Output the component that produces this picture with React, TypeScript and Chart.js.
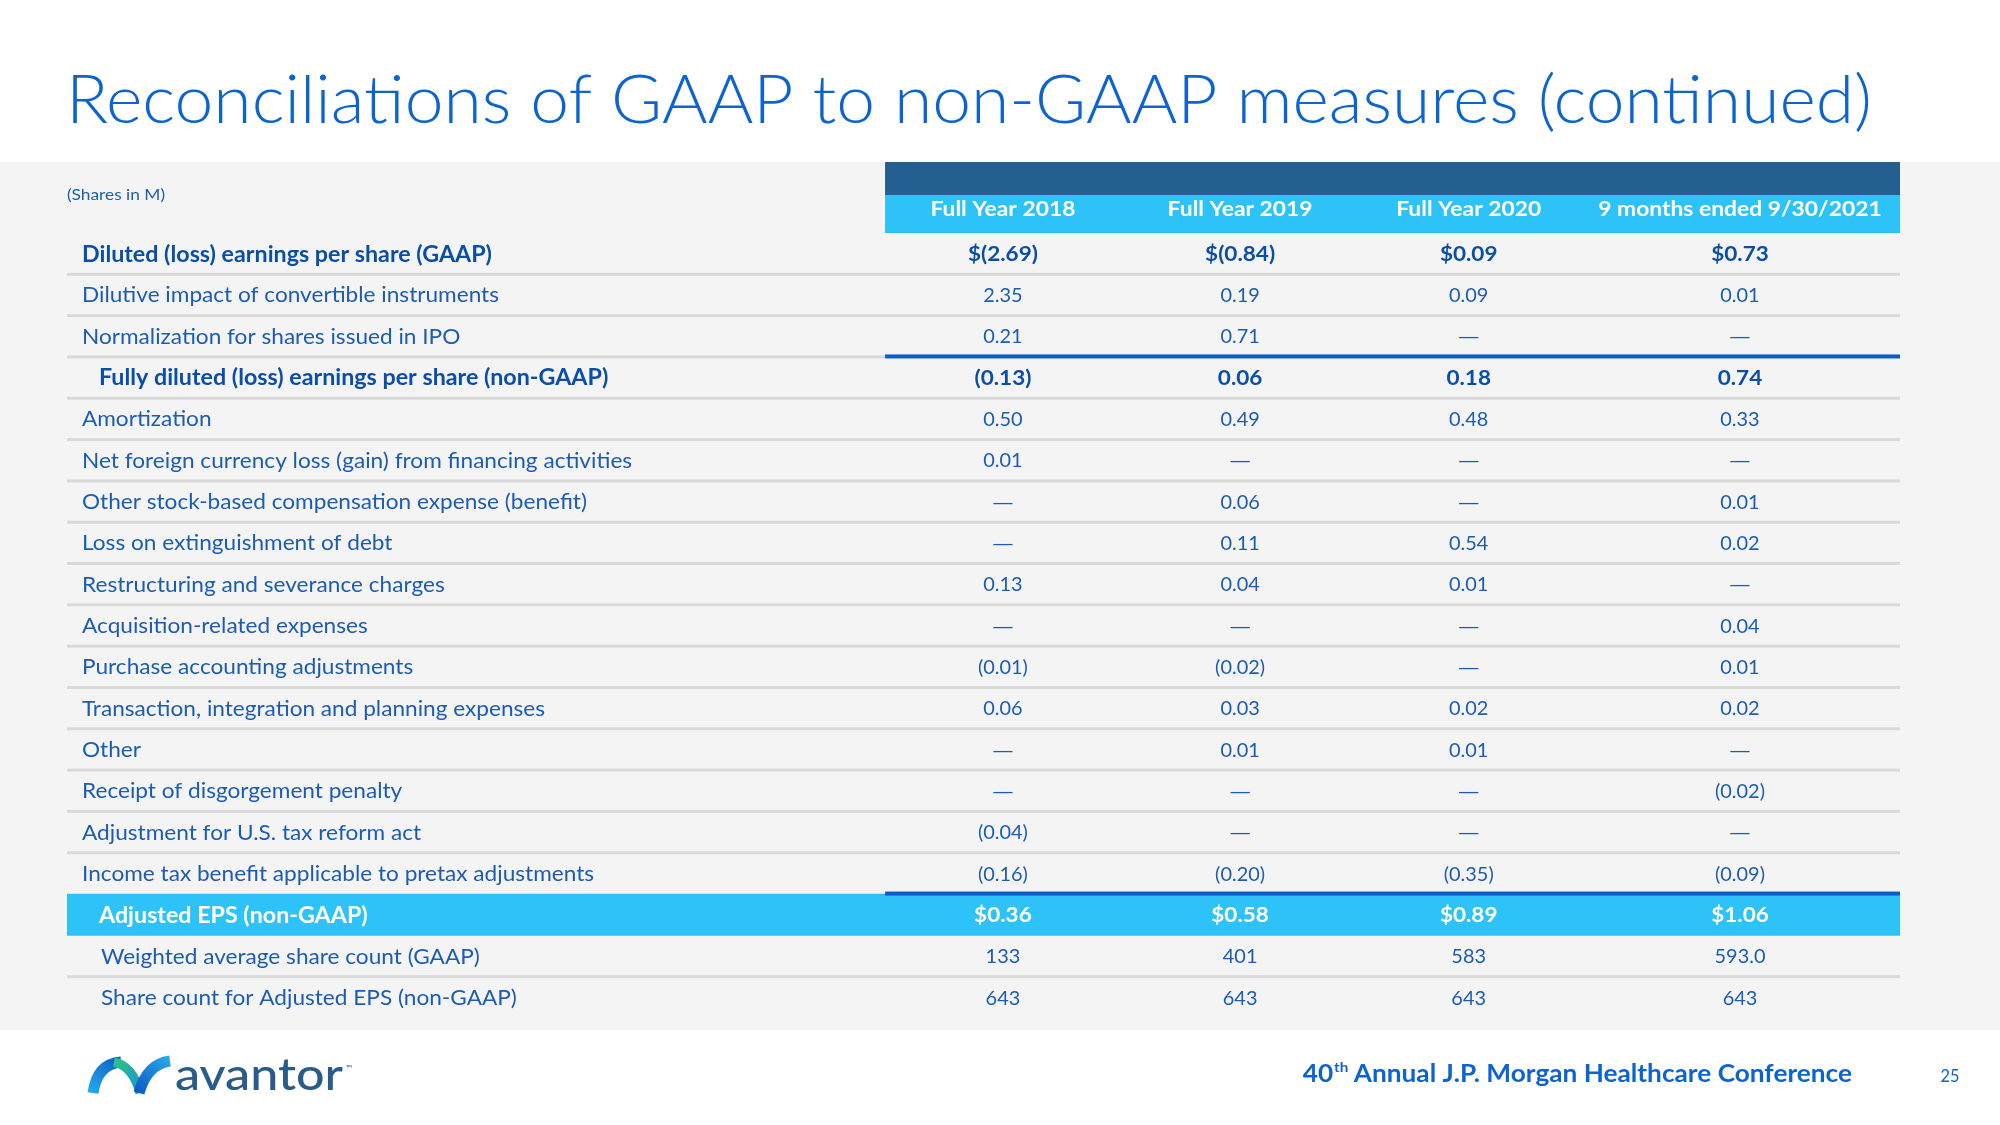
import React, { useEffect, useRef } from 'react';
import { Chart, registerables } from 'chart.js';

Chart.register(...registerables);

// ---------- data ----------
const TITLE = 'Reconciliations of GAAP to non-GAAP measures (continued)';
const UNITS_NOTE = '(Shares in M)';
const COLUMN_HEADERS = ['Full Year 2018', 'Full Year 2019', 'Full Year 2020', '9 months ended 9/30/2021'];
const ROW_LABELS = [
  'Diluted (loss) earnings per share (GAAP)',
  'Dilutive impact of convertible instruments',
  'Normalization for shares issued in IPO',
  'Fully diluted (loss) earnings per share (non-GAAP)',
  'Amortization',
  'Net foreign currency loss (gain) from financing activities',
  'Other stock-based compensation expense (benefit)',
  'Loss on extinguishment of debt',
  'Restructuring and severance charges',
  'Acquisition-related expenses',
  'Purchase accounting adjustments',
  'Transaction, integration and planning expenses',
  'Other',
  'Receipt of disgorgement penalty',
  'Adjustment for U.S. tax reform act',
  'Income tax benefit applicable to pretax adjustments',
  'Adjusted EPS (non-GAAP)',
  'Weighted average share count (GAAP)',
  'Share count for Adjusted EPS (non-GAAP)',
];
const FY2018 = ['$(2.69)', '2.35', '0.21', '(0.13)', '0.50', '0.01', '—', '—', '0.13', '—', '(0.01)', '0.06', '—', '—', '(0.04)', '(0.16)', '$0.36', '133', '643'];
const FY2019 = ['$(0.84)', '0.19', '0.71', '0.06', '0.49', '—', '0.06', '0.11', '0.04', '—', '(0.02)', '0.03', '0.01', '—', '—', '(0.20)', '$0.58', '401', '643'];
const FY2020 = ['$0.09', '0.09', '—', '0.18', '0.48', '—', '—', '0.54', '0.01', '—', '—', '0.02', '0.01', '—', '—', '(0.35)', '$0.89', '583', '643'];
const NINE_MONTHS_2021 = ['$0.73', '0.01', '—', '0.74', '0.33', '—', '0.01', '0.02', '—', '0.04', '0.01', '0.02', '—', '(0.02)', '—', '(0.09)', '$1.06', '593.0', '643'];
const COLUMNS = [FY2018, FY2019, FY2020, NINE_MONTHS_2021];

const BOLD_ROWS = [0, 3, 16];
const INDENTED_ROWS = [3, 16, 17, 18];
const HIGHLIGHT_ROW = 16;
const RULE_AFTER_ROWS = [2, 15];
const FOOTER_ORDINAL = '40';
const FOOTER_SUP = 'th';
const FOOTER_REST = ' Annual J.P. Morgan Healthcare Conference';
const PAGE_NUMBER = '25';
const BRAND = 'avantor';

// ---------- layout (axis units: 0..100 across table width) ----------
const VALUE_START = 44.63;
const COL_CENTERS = [51.06, 64.0, 76.47, 91.27];

const FAMILY = 'Lato, "Open Sans", sans-serif';
const C = {
  title: '#0d63cf',
  text: '#1d5cb3',
  bold: '#0b4ea8',
  gray: '#f4f4f4',
  rule: '#d9d9d9',
  blueRule: '#0b5cc4',
  dark: '#245f91',
  cyan: '#2ec3f8',
  brand: '#2a5c8a',
};

type Sty = { weight: number; size: number; sample: string; target: number };
const S: Record<string, Sty> = {
  title: { weight: 300, size: 67, sample: TITLE, target: 1806 },
  note: { weight: 400, size: 15, sample: UNITS_NOTE, target: 98 },
  header: { weight: 700, size: 20, sample: COLUMN_HEADERS[0], target: 145 },
  label: { weight: 400, size: 21, sample: ROW_LABELS[1], target: 417 },
  labelBold: { weight: 700, size: 22, sample: ROW_LABELS[0], target: 410 },
  value: { weight: 400, size: 20, sample: FY2018[15], target: 50 },
  valueBold: { weight: 700, size: 21, sample: FY2018[0], target: 70 },
  footer: { weight: 700, size: 24, sample: FOOTER_ORDINAL + FOOTER_REST, target: 535 },
  page: { weight: 400, size: 17, sample: PAGE_NUMBER, target: 19 },
  brand: { weight: 500, size: 44, sample: BRAND, target: 168 },
};

const fontOf = (s: Sty, size?: number) => `${s.weight} ${size ?? s.size}px ${FAMILY}`;

function scaleOf(ctx: CanvasRenderingContext2D, s: Sty) {
  ctx.save();
  ctx.font = fontOf(s);
  const w = ctx.measureText(s.sample).width;
  ctx.restore();
  return w > 0 ? s.target / w : 1;
}

function txt(
  ctx: CanvasRenderingContext2D,
  str: string,
  x: number,
  y: number,
  s: Sty,
  sx: number,
  color: string,
  align: CanvasTextAlign,
  size?: number
) {
  ctx.save();
  ctx.font = fontOf(s, size);
  ctx.fillStyle = color;
  ctx.textAlign = align;
  ctx.textBaseline = 'alphabetic';
  ctx.translate(x, y);
  ctx.scale(sx, 1);
  ctx.fillText(str, 0, 0);
  ctx.restore();
}

const cap = (s: Sty) => s.size * 0.7165;

const tablePlugin = {
  id: 'reconTable',
  beforeDraw(chart: any) {
    const { ctx, width, height, chartArea, scales } = chart;
    const xs = scales.x;
    const ys = scales.y;
    ctx.save();
    ctx.fillStyle = '#ffffff';
    ctx.fillRect(0, 0, width, height);
    ctx.fillStyle = C.gray;
    ctx.fillRect(0, 162, width, 1030 - 162);

    const x0 = xs.getPixelForValue(VALUE_START);
    const x1 = chartArea.right;
    ctx.fillStyle = C.dark;
    ctx.fillRect(x0, 162, x1 - x0, 33);
    ctx.fillStyle = C.cyan;
    ctx.fillRect(x0, 195, x1 - x0, chartArea.top - 195);

    // gray separators
    ctx.fillStyle = C.rule;
    for (let i = 0; i < ROW_LABELS.length - 1; i++) {
      if (i === HIGHLIGHT_ROW || i === HIGHLIGHT_ROW - 1) continue;
      const yb = (ys.getPixelForValue(i) + ys.getPixelForValue(i + 1)) / 2;
      const right = RULE_AFTER_ROWS.includes(i) ? x0 : x1;
      ctx.fillRect(chartArea.left, yb - 1.5, right - chartArea.left, 3);
    }
    ctx.restore();
  },
  afterDatasetsDraw(chart: any) {
    const { ctx, chartArea, scales } = chart;
    const xs = scales.x;
    const ys = scales.y;
    const x0 = xs.getPixelForValue(VALUE_START);
    const x1 = chartArea.right;

    // blue rules
    ctx.save();
    ctx.fillStyle = C.blueRule;
    RULE_AFTER_ROWS.forEach((i) => {
      const yb = (ys.getPixelForValue(i) + ys.getPixelForValue(i + 1)) / 2;
      ctx.fillRect(x0, yb - 2.5, x1 - x0, 4);
    });
    ctx.restore();

    const sc: Record<string, number> = {};
    Object.keys(S).forEach((k) => (sc[k] = scaleOf(ctx, S[k])));

    // title
    txt(ctx, TITLE, 66, 123, S.title, sc.title, C.title, 'left');
    // units note
    txt(ctx, UNITS_NOTE, 67, 200, S.note, sc.note, C.text, 'left');
    // headers
    COLUMN_HEADERS.forEach((h, j) => {
      txt(ctx, h, xs.getPixelForValue(COL_CENTERS[j]), 216, S.header, sc.header, '#ffffff', 'center');
    });

    // rows
    ROW_LABELS.forEach((label, i) => {
      const yc = ys.getPixelForValue(i);
      const bold = BOLD_ROWS.includes(i);
      const hi = i === HIGHLIGHT_ROW;
      const indent = INDENTED_ROWS.includes(i) ? (bold ? 32 : 34) : 15;
      const ls = bold ? S.labelBold : S.label;
      const lcolor = hi ? '#ffffff' : bold ? C.bold : C.text;
      txt(ctx, label, chartArea.left + indent, yc + cap(ls) / 2, ls, bold ? sc.labelBold : sc.label, lcolor, 'left');
      const vs = bold ? S.valueBold : S.value;
      COLUMNS.forEach((col, j) => {
        const v = col[i];
        const cx = xs.getPixelForValue(COL_CENTERS[j]);
        if (v === '—') {
          txt(ctx, v, cx, yc + cap(vs) / 2, vs, (bold ? sc.valueBold : sc.value) * 1.45, lcolor, 'center');
        } else {
          txt(ctx, v, cx, yc + cap(vs) / 2, vs, bold ? sc.valueBold : sc.value, lcolor, 'center');
        }
      });
    });

    // footer
    ctx.save();
    const fs = S.footer;
    ctx.font = fontOf(fs);
    const wA = ctx.measureText(FOOTER_ORDINAL).width * sc.footer;
    const wC = ctx.measureText(FOOTER_REST).width * sc.footer;
    ctx.font = fontOf(fs, 14);
    const wB = ctx.measureText(FOOTER_SUP).width * sc.footer;
    ctx.restore();
    const right = 1852;
    let fx = right - (wA + wB + wC);
    txt(ctx, FOOTER_ORDINAL, fx, 1082, fs, sc.footer, C.title, 'left');
    fx += wA;
    txt(ctx, FOOTER_SUP, fx + 1, 1072, fs, sc.footer, C.title, 'left', 14);
    fx += wB;
    txt(ctx, FOOTER_REST, fx, 1082, fs, sc.footer, C.title, 'left');
    txt(ctx, PAGE_NUMBER, 1950, 1082, S.page, sc.page, C.title, 'center');

    // logo mark
    ctx.save();
    ctx.lineCap = 'butt';
    ctx.lineWidth = 11;
    let g = ctx.createLinearGradient(88, 1094, 120, 1060);
    g.addColorStop(0, '#29aef0');
    g.addColorStop(1, '#0c5fc6');
    ctx.strokeStyle = g;
    ctx.beginPath();
    ctx.moveTo(93, 1093);
    ctx.quadraticCurveTo(97, 1064, 121, 1062);
    ctx.stroke();
    ctx.lineWidth = 9;
    g = ctx.createLinearGradient(112, 1062, 142, 1094);
    g.addColorStop(0, '#2bc486');
    g.addColorStop(1, '#1590d8');
    ctx.strokeStyle = g;
    ctx.beginPath();
    ctx.moveTo(114, 1062);
    ctx.quadraticCurveTo(133, 1066, 140, 1093);
    ctx.stroke();
    ctx.lineWidth = 11;
    g = ctx.createLinearGradient(136, 1094, 170, 1060);
    g.addColorStop(0, '#0b57c0');
    g.addColorStop(1, '#2aa6ea');
    ctx.strokeStyle = g;
    ctx.beginPath();
    ctx.moveTo(139, 1093);
    ctx.quadraticCurveTo(147, 1064, 170, 1061);
    ctx.stroke();
    ctx.restore();

    txt(ctx, BRAND, 175, 1090, S.brand, sc.brand, C.brand, 'left');
    txt(ctx, '™', 346, 1071, S.page, 1, C.brand, 'left', 8);
  },
};

export default function App() {
  const ref = useRef<HTMLCanvasElement | null>(null);
  useEffect(() => {
    document.body.style.margin = '0';
    const canvas = ref.current;
    if (!canvas) return;
    const chart = new Chart(canvas, {
      type: 'bar',
      data: {
        labels: ROW_LABELS,
        datasets: [
          {
            label: 'highlight',
            data: ROW_LABELS.map((_, i) => (i === HIGHLIGHT_ROW ? [0, 100] : null)) as any,
            backgroundColor: C.cyan,
            borderWidth: 0,
            barPercentage: 1,
            categoryPercentage: 1,
          },
        ],
      },
      options: {
        indexAxis: 'y',
        animation: false,
        responsive: false,
        maintainAspectRatio: false,
        events: [],
        layout: { padding: { left: 67, right: 100, top: 233, bottom: 107 } },
        scales: {
          x: { type: 'linear', min: 0, max: 100, display: false },
          y: { type: 'category', display: false, offset: true },
        },
        plugins: {
          legend: { display: false },
          tooltip: { enabled: false },
          title: { display: false },
        },
      },
      plugins: [tablePlugin as any],
    });
    return () => chart.destroy();
  }, []);
  return (
    <div style={{ position: 'absolute', left: 0, top: 0, width: 2000, height: 1125, background: '#ffffff' }}>
      <canvas ref={ref} width={2000} height={1125} style={{ display: 'block', width: 2000, height: 1125 }} />
    </div>
  );
}
